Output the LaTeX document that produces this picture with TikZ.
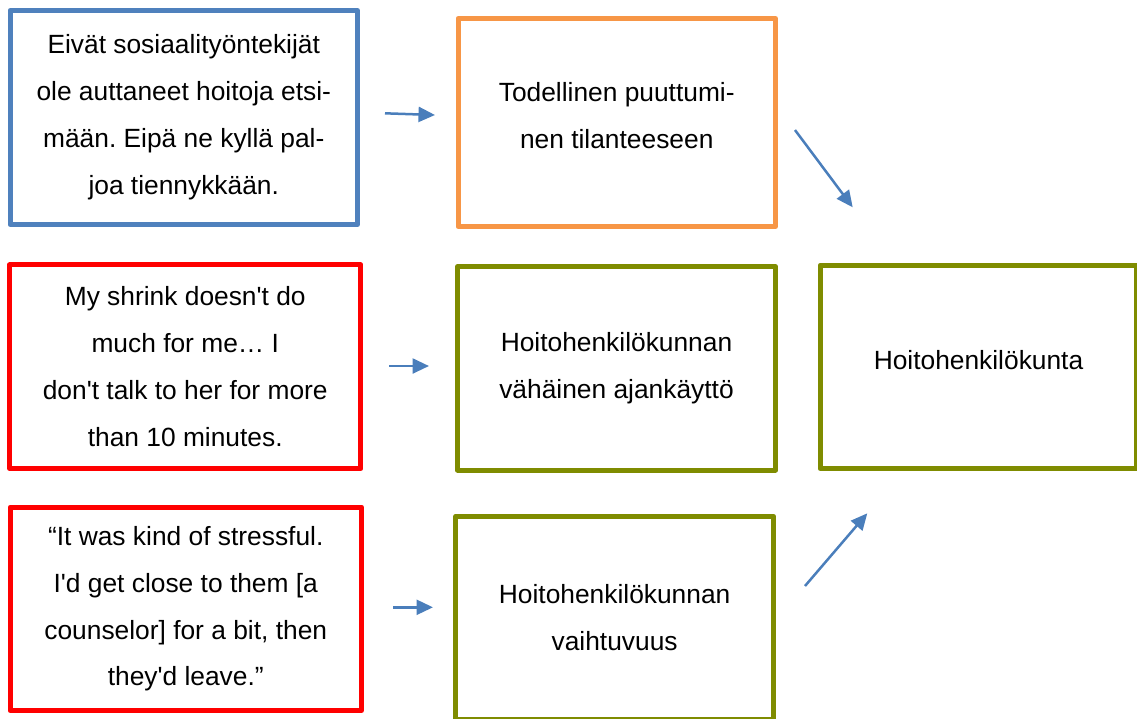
\documentclass[tikz,border=0pt]{standalone}
\usepackage{fontspec}
\setmainfont{Liberation Sans}
\usetikzlibrary{arrows.meta}

\definecolor{quoteblue}{HTML}{4F81BD}
\definecolor{quotered}{HTML}{FF0000}
\definecolor{themeorange}{HTML}{F79646}
\definecolor{themeolive}{HTML}{7F8C00}
\definecolor{linkblue}{HTML}{4A7EBB}
\newcommand{\ap}{\textquotesingle}
\frenchspacing

\begin{document}
\begin{tikzpicture}[x=0.02cm,y=-0.02cm,
  box/.style={draw,rectangle,line width=0.1cm,line join=round,inner sep=0pt,
    align=center,font=\fontsize{15}{26.7}\selectfont},
  quote/.style={box,minimum width=7.03cm,minimum height=4.07cm},
  theme/.style={box,draw=themeolive,minimum width=6.36cm,minimum height=4.07cm},
  link/.style={draw=linkblue,line width=0.05cm,-{Triangle[length=0.33cm,width=0.3cm]}}]
  \useasboundingbox (0,0) rectangle (1137,718);

  % quotes on the left
  \node[quote,draw=quoteblue,minimum width=6.95cm,minimum height=4.28cm] (quoteA) at (183.75,117.5)
    {Eivät sosiaalityöntekijät\\ole auttaneet hoitoja etsi-\\mään. Eipä ne kyllä pal-\\joa tiennykkään.};
  \node[quote,draw=quotered] (quoteB) at (185.25,366.7)
    {My shrink doesn\ap t do\\much for me… I\\don\ap t talk to her for more\\than 10 minutes.};
  \node[quote,draw=quotered] (quoteC) at (185.75,608.75)
    {“It was kind of stressful.\\I\ap d get close to them [a\\counselor] for a bit, then\\they\ap d leave.”};

  % themes in the middle
  \node[theme,draw=themeorange,minimum width=6.35cm,minimum height=4.16cm,text depth=0.3cm] (themeA) at (616.75,122.5)
    {Todellinen puuttumi-\\nen tilanteeseen};
  \node[theme] (themeB) at (616.5,368.3) {Hoitohenkilökunnan\\vähäinen ajankäyttö};
  \node[theme] (themeC) at (614.65,618) {Hoitohenkilökunnan\\vaihtuvuus};

  % main category
  \node[theme,minimum width=6.34cm,text depth=0.28cm] (staff) at (978.5,367) {Hoitohenkilökunta};

  % free-standing arrows
  \coordinate (linkAs) at (385,113.3);
  \coordinate (linkAe) at (435,115);
  \coordinate (linkBs) at (389,366);
  \coordinate (linkBe) at (429,366);
  \coordinate (linkCs) at (393,607.3);
  \coordinate (linkCe) at (433,607.3);
  \coordinate (linkDs) at (795,130);
  \coordinate (linkDe) at (852.7,207.3);
  \coordinate (linkEs) at (805,586);
  \coordinate (linkEe) at (867.3,513.3);
  \draw[link] (linkAs) -- (linkAe);
  \draw[link] (linkBs) -- (linkBe);
  \draw[link] (linkCs) -- (linkCe);
  \draw[link] (linkDs) -- (linkDe);
  \draw[link] (linkEs) -- (linkEe);
\end{tikzpicture}
\end{document}
